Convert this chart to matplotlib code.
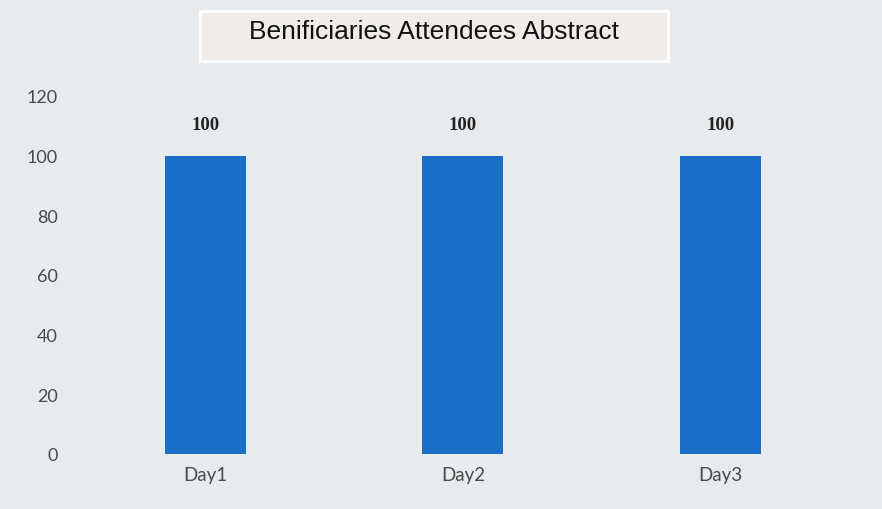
import matplotlib.pyplot as plt
from matplotlib.patches import Rectangle

# chart data
days = ["Day1", "Day2", "Day3"]
attendees = [100, 100, 100]
yticks = [0, 20, 40, 60, 80, 100, 120]

bg = '#e7ebed'
fig = plt.figure(figsize=(8.82, 5.10), dpi=100, facecolor=bg)
ax = fig.add_axes([0.0873, 0.108, 0.875, 0.702])
ax.set_facecolor(bg)

x = list(range(len(days)))
bars = ax.bar(x, attendees, width=0.315, color='#1a6ec8')
ax.bar_label(bars, labels=[str(v) for v in attendees], padding=16,
             fontsize=13.5, fontweight='bold', color='#222222',
             family='Liberation Serif')

ax.set_xlim(-0.5, 2.5)
ax.set_ylim(0, 120)
ax.set_yticks(yticks)
ax.set_xticks(x)
ax.set_xticklabels(days)
for s in ax.spines.values():
    s.set_visible(False)
ax.tick_params(axis='both', length=0, labelcolor='#4a4a4a')
ax.tick_params(axis='y', pad=14, labelsize=13)
ax.tick_params(axis='x', pad=9, labelsize=13.5)
for lab in ax.get_xticklabels() + ax.get_yticklabels():
    lab.set_family('Lato')

# title in a boxed banner
W, H = 882, 510
box = Rectangle((200 / W, 1 - 62 / H), 468 / W, 50 / H, transform=fig.transFigure,
                facecolor='#efecea', edgecolor='white', linewidth=2)
fig.patches.append(box)
fig.text(434 / W, 1 - 32 / H, "Benificiaries Attendees Abstract", ha='center', va='center',
         fontsize=19, family='Liberation Sans', color='#111111')

fig.savefig('out.png', dpi=100, facecolor=bg)
